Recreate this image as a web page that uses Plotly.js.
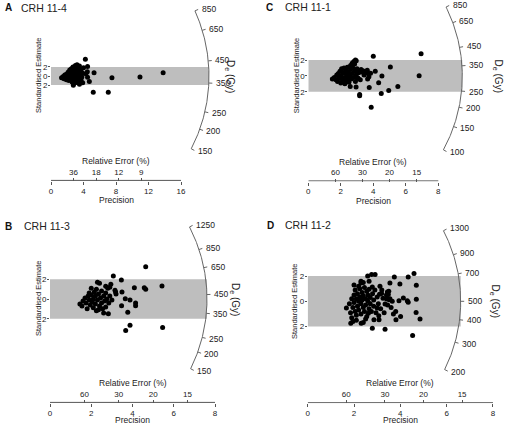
<!DOCTYPE html>
<html><head><meta charset="utf-8">
<script src="https://cdn.plot.ly/plotly-3.0.1.min.js"></script>
<style>html,body{margin:0;padding:0;background:#fff}</style>
</head><body><div id="chart" style="width:505px;height:425px"></div>
<script>
// ---------- DATA ----------
// Panel A: CRH 11-4
const precA = [1.3,1.5,1.6,1.7,1.8,1.9,1.9,2.0,2.1,2.1,2.2,2.2,2.3,2.3,2.4,2.4,2.5,2.5,2.6,2.6,2.7,2.7,2.75,2.8,2.8,2.9,2.9,3.0,3.0,3.1,3.1,3.2,3.2,3.3,3.3,3.4,3.4,3.5,3.5,3.6,3.7,3.7,3.8,3.9,3.9,4.0,
  4.23,4.5,4.47,5.3,4.5,4.72,4.3,7.5,10.95,13.8,5.2,7.05];
const estA = [-0.4,-0.1,-0.6,0.2,-0.3,-0.8,0.4,0.0,-0.5,0.8,-1.0,0.3,1.3,-0.2,0.6,-0.7,1.6,0.0,-1.3,0.9,-0.4,2.0,-2.05,0.4,-1.0,1.2,-0.2,2.3,-1.5,0.7,-0.6,2.5,1.6,0.1,-1.2,0.9,-0.4,2.2,-1.8,0.4,1.4,-0.9,-0.2,0.6,-1.5,1.8,
  3.7,2.1,0.96,0.73,-0.3,-1.2,0.5,-0.4,-0.2,0.73,-3.55,-3.55];
const deTicksA = [150,200,250,350,450,650,850];
const reTicksA = [36,18,12,9];
const precTicksA = [0,4,8,12,16];
const centralA = 379;

// Panel C: CRH 11-1
const precC = [1.48,1.6,1.7,1.75,1.8,1.85,1.9,1.95,2.0,2.0,2.05,2.1,2.15,2.2,2.2,2.25,2.3,2.3,2.35,2.4,2.4,2.45,2.5,2.55,2.6,2.65,2.7,2.75,2.8,2.85,2.9,2.95,3.0,3.05,3.1,3.2,3.25,3.35,3.5,3.6,3.65,
  2.6,2.7,2.8,2.9,2.95,2.85,
  6.94,4.0,6.82,5.05,5.51,4.95,4.49,4.33,4.53,3.75,3.87,3.16,3.16,2.94,2.58,4.12,3.83,3.73,3.1,3.06,3.43,3.63,3.35];
const estC = [-0.4,-0.2,-0.5,0.1,-0.7,0.3,-0.3,0.6,-0.9,0.0,0.9,-0.5,0.4,1.0,-0.2,-1.0,0.7,-0.6,0.2,1.1,-0.3,0.5,-0.8,0.0,0.8,-0.4,0.3,1.0,-0.2,0.6,-0.7,0.1,0.9,-0.3,0.4,-0.5,0.8,0.45,0.6,0.35,-0.4,
  1.3,1.6,1.8,2.0,1.9,1.5,
  2.8,2.47,0.02,1.12,-1.32,-1.83,-2.2,-0.86,-0.02,-1.45,-3.94,-2.34,-2.5,-1.41,-1.32,0.57,0.32,-0.1,0.53,-0.3,0.1,0.7,0.66];
const deTicksC = [100,150,200,250,350,450,650,850];
const reTicksC = [60,30,20,15];
const precTicksC = [0,2,4,6,8];
const centralC = 306;

// Panel B: CRH 11-3
const precB = [1.45,1.55,1.6,1.7,1.75,1.8,1.85,1.9,1.95,2.0,2.0,2.05,2.1,2.1,2.15,2.2,2.2,2.25,2.25,2.3,2.3,2.35,2.4,2.4,2.45,2.5,2.5,2.55,2.6,2.65,2.7,2.7,2.75,2.8,2.85,2.9,2.95,3.0,2.35,1.9,
  4.64,3.07,3.46,5.43,4.09,4.57,4.64,3.49,3.15,3.18,3.2,3.65,3.88,4.15,4.15,3.47,3.77,2.83,2.6,3.67,3.88,5.46,2.9,2.7];
const estB = [-0.5,-0.7,-0.2,0.1,-0.4,-1.0,0.3,-0.1,-0.6,1.1,0.4,-0.3,-0.9,0.0,0.7,-0.5,0.3,1.0,-1.2,1.7,-0.1,0.5,-0.7,1.6,0.1,-0.4,0.8,-1.0,0.3,-0.2,0.6,-0.8,0.0,1.1,-0.4,0.3,1.5,-0.1,-1.1,0.6,
  3.28,2.34,1.93,1.32,1.15,1.15,0.98,0.71,0.88,0.7,0.5,0.03,-0.1,-0.41,-0.68,-0.68,-1.35,-1.49,-1.42,-3.2,-2.67,-2.9,1.2,1.3];
const deTicksB = [150,200,250,350,450,650,850,1250];
const reTicksB = [60,30,20,15];
const precTicksB = [0,2,4,6,8];
const centralB = 424;

// Panel D: CRH 11-2
const precD = [1.67,1.8,1.85,1.9,1.9,1.95,2.0,2.0,2.05,2.05,2.1,2.1,2.15,2.15,2.2,2.2,2.25,2.25,2.3,2.3,2.35,2.35,2.4,2.4,2.45,2.45,2.5,2.5,2.55,2.55,2.6,2.6,2.65,2.65,2.7,2.7,2.75,2.8,2.85,2.85,2.9,2.95,3.0,3.05,3.1,3.15,3.2,3.25,3.3,3.4,3.45,3.5,3.55,3.6,3.65,3.7,2.0,2.2,1.95,2.1,2.5,2.4,
  4.59,4.34,3.74,4.69,3.98,3.55,2.76,2.91,2.59,2.3,2.3,2.65,2.79,3.12,3.94,4.13,4.3,4.34,4.69,3.8,3.81,4.01,4.68,4.85,4.53,3.34,2.79,2.31,2.4,1.86,2.86,3.08,3.07,3.44,3.48,3.19,3.41,3.52,3.34,3.0,2.62];
const estD = [-0.54,-0.2,-0.9,0.2,-1.3,-0.5,0.5,-0.1,-0.8,0.9,0.2,-1.1,-0.4,0.6,0.0,-0.7,1.0,0.35,-0.2,-1.0,0.7,0.1,-0.5,0.45,1.1,-0.8,0.2,-0.3,0.8,-1.2,0.5,0.0,-0.6,0.95,0.3,-0.2,-0.8,0.6,0.1,-0.4,0.9,-0.9,0.35,-0.2,0.55,-0.6,0.9,0.25,-0.9,0.5,-0.3,0.8,0.2,-0.5,0.0,-1.0,1.3,1.2,-1.6,-1.5,-1.4,1.5,
  2.21,1.92,1.92,1.28,1.38,1.46,2.13,2.13,2.0,1.6,1.46,1.6,1.14,1.2,0.05,0.26,0.05,-0.08,0.16,-0.8,-1.47,-1.2,-0.88,-1.41,-2.72,-2.22,-2.14,-1.74,-1.68,-1.74,-1.47,-1.47,-1.15,0.74,0.53,0.61,0.18,0.13,-0.22,-0.54,-0.94];
const deTicksD = [200,300,400,500,700,900,1300];
const reTicksD = [60,30,20,15];
const precTicksD = [0,2,4,6,8];
const centralD = 500;

// ---------- LAYOUT GEOMETRY (pixels) ----------
const W = 505, H = 425;
const FONT = '"Liberation Sans", Arial, sans-serif';
const panels = [
  {tag:'A', name:'CRH 11-4', prec:precA, est:estA, de:deTicksA, re:reTicksA, pt:precTicksA, central:centralA,
   g:{ox:51, oy:76, px:8.125, py:4.55, R:158, axisY:181, top:0, right:250, deDx:179, stDx:-13, tagX:3, tagY:8, nameX:19, bottom:false}},
  {tag:'C', name:'CRH 11-1', prec:precC, est:estC, de:deTicksC, re:reTicksC, pt:precTicksC, central:centralC,
   g:{ox:308.3, oy:75.9, px:16.25, py:7.95, R:154, axisY:181.5, top:0, right:505, deDx:190, stDx:-11, tagX:264, tagY:7, nameX:283, bottom:false}},
  {tag:'B', name:'CRH 11-3', prec:precB, est:estB, de:deTicksB, re:reTicksB, pt:precTicksB, central:centralB,
   g:{ox:50, oy:299, px:20.625, py:9.85, R:157, axisY:403, top:212, right:250, deDx:185, stDx:-12, tagX:3, tagY:226, nameX:22, bottom:true}},
  {tag:'D', name:'CRH 11-2', prec:precD, est:estD, de:deTicksD, re:reTicksD, pt:precTicksD, central:centralD,
   g:{ox:307.7, oy:301.3, px:23.16, py:12.6, R:153, axisY:403.3, top:212, right:505, deDx:187, stDx:-13, tagX:265, tagY:225, nameX:283, bottom:true}}
];

const traces = [], shapes = [], annotations = [];
const layout = {
  width: W, height: H, margin: {l:0, r:0, t:0, b:0},
  paper_bgcolor: '#ffffff', plot_bgcolor: 'rgba(0,0,0,0)',
  showlegend: false, font: {family: FONT, size: 8, color: '#222'},
  shapes: shapes, annotations: annotations
};
const axisColor = '#555';

panels.forEach((p, i) => {
  const g = p.g;
  const xn = 2*i + 1, xn2 = 2*i + 2, yn = i + 1;
  const xid = xn === 1 ? 'x' : 'x' + xn, x2id = 'x' + xn2, yid = yn === 1 ? 'y' : 'y' + yn;
  const xk = xn === 1 ? 'xaxis' : 'xaxis' + xn, x2k = 'xaxis' + xn2, yk = yn === 1 ? 'yaxis' : 'yaxis' + yn;
  const xr = [0, (g.right - g.ox) / g.px];
  const yr = [(g.oy - g.axisY) / g.py, (g.oy - g.top) / g.py];
  const axisPos = 1 - g.axisY / H;
  const common = {showgrid:false, zeroline:false, showline:false, fixedrange:true,
                  tickmode:'array', ticks:'outside', ticklen:3, tickwidth:1, tickcolor:axisColor,
                  tickfont:{family:FONT, size:8, color:'#222'}};
  layout[xk] = Object.assign({}, common, {domain:[g.ox/W, g.right/W], range:xr, anchor:yid,
                  tickvals:p.pt, ticktext:p.pt.map(String), ticklabelstandoff:-1});
  layout[yk] = Object.assign({}, common, {domain:[axisPos, 1 - g.top/H], range:yr, anchor:xid,
                  tickvals:[-2,0,2], ticktext:['2','0','2'], ticklen:2, ticklabelstandoff:-1});
  layout[x2k] = Object.assign({}, common, {overlaying:xid, side:'top', anchor:'free', position:axisPos,
                  range:xr, tickvals:p.re.map(r => 100/r), ticktext:p.re.map(String)});

  const Rx = g.R / g.px;          // arc radius in precision units
  const k = g.py / g.px;          // pixel aspect
  const phi = d => Math.atan((Math.log(d) - Math.log(p.central)) * k);

  // grey +/-2 band
  shapes.push({type:'rect', xref:xid, yref:yid, x0:0, x1:Rx, y0:-2, y1:2,
               fillcolor:'#bebebe', line:{width:0}, layer:'below'});

  // precision axis line (only over the tick span)
  const yLine = yr[0] + 0.6 / g.py;
  traces.push({type:'scatter', mode:'lines', x:[0, Math.max(...p.pt)], y:[yLine, yLine],
               xaxis:xid, yaxis:yid, line:{color:axisColor, width:1}, hoverinfo:'skip'});

  // arc
  const phMin = phi(Math.min(...p.de)), phMax = phi(Math.max(...p.de));
  const ax = [], ay = [];
  for (let j = 0; j <= 120; j++) {
    const a = phMin + (phMax - phMin) * j / 120;
    ax.push(g.R * Math.cos(a) / g.px); ay.push(g.R * Math.sin(a) / g.py);
  }
  traces.push({type:'scatter', mode:'lines', x:ax, y:ay, xaxis:xid, yaxis:yid,
               line:{color:'#666', width:1}, hoverinfo:'skip'});

  // arc ticks + labels
  const tx = [], ty = [];
  p.de.forEach(d => {
    const a = phi(d);
    tx.push(g.R*Math.cos(a)/g.px, (g.R+3.5)*Math.cos(a)/g.px, null);
    ty.push(g.R*Math.sin(a)/g.py, (g.R+3.5)*Math.sin(a)/g.py, null);
    annotations.push({xref:xid, yref:yid, x:(g.R+5)*Math.cos(a)/g.px, y:(g.R+5)*Math.sin(a)/g.py,
      text:String(d), showarrow:false, xanchor:'left', yanchor:'middle',
      font:{family:FONT, size:8.5, color:'#222'}});
  });
  traces.push({type:'scatter', mode:'lines', x:tx, y:ty, xaxis:x2id, yaxis:yid,
               line:{color:'#666', width:1}, hoverinfo:'skip', connectgaps:false});

  // data points
  traces.push({type:'scatter', mode:'markers', x:p.prec, y:p.est, xaxis:xid, yaxis:yid,
               marker:{color:'#000', size:5, line:{width:0}}, cliponaxis:false});

  // titles
  const midX = Math.max(...p.pt) / 2;
  if (g.bottom) {
    annotations.push({xref:xid, yref:'paper', x:midX, y:0, yshift:-1, text:'Precision',
      showarrow:false, xanchor:'center', yanchor:'bottom', borderpad:0, font:{family:FONT, size:8.5, color:'#222'}});
  } else {
    annotations.push({xref:xid, yref:'paper', x:midX, y:1 - (g.axisY + 19.5)/H, text:'Precision',
      showarrow:false, xanchor:'center', yanchor:'middle', borderpad:0, font:{family:FONT, size:8.5, color:'#222'}});
  }
  annotations.push({xref:xid, yref:'paper', x:midX, y:1 - (g.axisY - 20)/H, text:'Relative Error (%)',
    showarrow:false, xanchor:'center', yanchor:'middle', font:{family:FONT, size:8.5, color:'#222'}});
  annotations.push({xref:xid, yref:yid, x:0, y:0, xshift:g.stDx, text:'Standardised Estimate', textangle:-90,
    showarrow:false, xanchor:'center', yanchor:'middle', borderpad:0, font:{family:FONT, size:7.5, color:'#222'}});
  annotations.push({xref:xid, yref:yid, x:g.deDx / g.px, y:0, text:'D<sub>e</sub> (Gy)', textangle:90,
    showarrow:false, xanchor:'center', yanchor:'middle', font:{family:FONT, size:10, color:'#222'}});
  annotations.push({xref:'paper', yref:'paper', x:g.tagX/W, y:1 - g.tagY/H, text:'<b>' + p.tag + '</b>',
    showarrow:false, xanchor:'left', yanchor:'middle', font:{family:FONT, size:10, color:'#111'}});
  annotations.push({xref:'paper', yref:'paper', x:g.nameX/W, y:1 - g.tagY/H, text:p.name,
    showarrow:false, xanchor:'left', yanchor:'middle', font:{family:FONT, size:10.5, color:'#222'}});
});

Plotly.newPlot('chart', traces, layout, {staticPlot:true, displayModeBar:false});
</script>
</body></html>
